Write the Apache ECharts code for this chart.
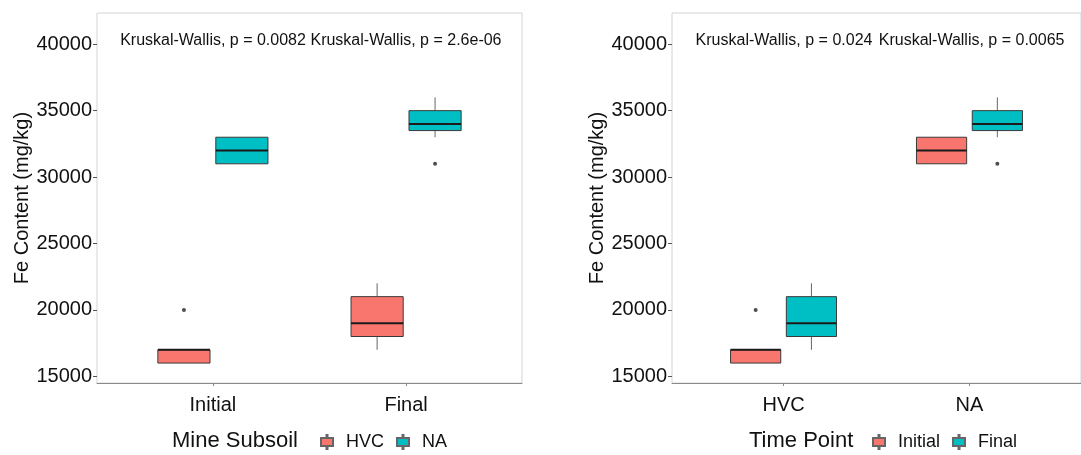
<!DOCTYPE html>
<html>
<head>
<meta charset="utf-8">
<script src="https://cdn.jsdelivr.net/npm/echarts@6/dist/echarts.min.js"></script>
<style>html,body{margin:0;padding:0;background:#fff;}#chart{width:1081px;height:455px;}</style>
</head>
<body>
<div id="chart"></div>
<script>
// ---------- data ----------
const timePoints = ['Initial', 'Final'];
const subsoils = ['HVC', 'NA'];
// box stats per time point: [lower whisker, Q1, median, Q3, upper whisker]
const hvcStats = [[16000, 16000, 17000, 17000, 17000], [17000, 18000, 19000, 21000, 22000]];
const naStats  = [[31000, 31000, 32000, 33000, 33000], [33000, 33500, 34000, 35000, 36000]];
// outliers: [timePointIndex, value]
const hvcOutliers = [[0, 20000]];
const naOutliers  = [[1, 31000]];
const yTicks = [15000, 20000, 25000, 30000, 35000, 40000];
const pLabelsLeft  = ['Kruskal-Wallis, p = 0.0082', 'Kruskal-Wallis, p = 2.6e-06'];
const pLabelsRight = ['Kruskal-Wallis, p = 0.024', 'Kruskal-Wallis, p = 0.0065'];
const legendTitleLeft = 'Mine Subsoil';
const legendTitleRight = 'Time Point';
const yTitle = 'Fe Content (mg/kg)';

// ---------- style ----------
const COL_A = '#F8766D', COL_B = '#00BFC4';
const FONT = 'Liberation Sans, Arial, sans-serif';
const DODGE = 0.15, BOX_W = 0.27;
const Y_MIN = 14500, Y_MAX = 42350;
const P_X_L = [0.52, 1.505], P_X_R = [0.527, 1.512], P_Y = 40300;

function boxRender(params, api) {
  const x = api.value(0);
  const lo = api.coord([x, api.value(1)]);
  const q1 = api.coord([x, api.value(2)]);
  const md = api.coord([x, api.value(3)]);
  const q3 = api.coord([x, api.value(4)]);
  const hi = api.coord([x, api.value(5)]);
  const hw = api.size([BOX_W, 0])[0] / 2;
  const color = api.visual('color');
  const ch = [];
  if (lo[1] - q1[1] > 0.5) ch.push({type: 'line', shape: {x1: lo[0], y1: lo[1], x2: q1[0], y2: q1[1]}, style: {stroke: '#666', lineWidth: 1}});
  if (q3[1] - hi[1] > 0.5) ch.push({type: 'line', shape: {x1: q3[0], y1: q3[1], x2: hi[0], y2: hi[1]}, style: {stroke: '#666', lineWidth: 1}});
  ch.push({type: 'rect', shape: {x: q1[0] - hw, y: q3[1], width: 2 * hw, height: q1[1] - q3[1]}, style: {fill: color, stroke: '#3a3a3a', lineWidth: 1}});
  ch.push({type: 'line', shape: {x1: md[0] - hw, y1: md[1], x2: md[0] + hw, y2: md[1]}, style: {stroke: '#1a1a1a', lineWidth: 2}});
  return {type: 'group', children: ch};
}
function makeTextRender(labels) {
  return function (params, api) {
    const p = api.coord([api.value(0), api.value(1)]);
    return {type: 'text', x: p[0], y: p[1], style: {text: labels[params.dataIndex], fontSize: 16, fontFamily: FONT, fill: '#111', align: 'left', verticalAlign: 'middle'}};
  };
}

function boxData(stats, offset) {
  return stats.map((s, i) => [i + 1 + offset].concat(s));
}

const KEY_ICON = 'path://M5.5,0 H6.5 V3 H12 V11 H6.5 V14 H5.5 V11 H0 V3 H5.5 Z';

function xAxis(gi, cats) {
  return {
    gridIndex: gi, type: 'value', min: 0.4, max: 2.6,
    axisLine: {show: true, lineStyle: {color: '#8a8a8a', width: 1}},
    axisTick: {show: true, customValues: [1, 2], length: 3, lineStyle: {color: '#8a8a8a'}},
    axisLabel: {customValues: [1, 2], formatter: v => cats[Math.round(v) - 1], fontSize: 20, fontFamily: FONT, color: '#111', margin: 12},
    splitLine: {show: false}
  };
}
function yAxis(gi) {
  return {
    gridIndex: gi, type: 'value', min: Y_MIN, max: Y_MAX,
    name: yTitle, nameLocation: 'middle', nameGap: 61,
    nameTextStyle: {fontSize: 20, fontFamily: FONT, color: '#111'},
    axisLine: {show: false},
    axisTick: {show: true, customValues: yTicks, length: 4, lineStyle: {color: '#555'}},
    axisLabel: {customValues: yTicks, formatter: v => String(v), fontSize: 20, fontFamily: FONT, color: '#111', margin: 5},
    splitLine: {show: false}
  };
}

const legendItemStyle = {borderColor: '#666', borderWidth: 0.5};
const series = [];
// Left panel: x = time point, fill = subsoil
series.push({name: 'HVC', type: 'custom', xAxisIndex: 0, yAxisIndex: 0, renderItem: boxRender,
  itemStyle: Object.assign({color: COL_A}, legendItemStyle), encode: {x: 0, y: [1, 2, 3, 4, 5]},
  data: boxData(hvcStats, -DODGE)});
series.push({name: 'NA', type: 'custom', xAxisIndex: 0, yAxisIndex: 0, renderItem: boxRender,
  itemStyle: Object.assign({color: COL_B}, legendItemStyle), encode: {x: 0, y: [1, 2, 3, 4, 5]},
  data: boxData(naStats, DODGE)});
series.push({name: 'outL', type: 'scatter', xAxisIndex: 0, yAxisIndex: 0, symbolSize: 4, itemStyle: {color: '#222'}, silent: true,
  data: hvcOutliers.map(o => [o[0] + 1 - DODGE, o[1]]).concat(naOutliers.map(o => [o[0] + 1 + DODGE, o[1]]))});
series.push({name: 'pL', type: 'custom', xAxisIndex: 0, yAxisIndex: 0, renderItem: makeTextRender(pLabelsLeft), silent: true,
  encode: {x: 0, y: 1}, data: pLabelsLeft.map((t, i) => [P_X_L[i], P_Y])});

// Right panel: x = subsoil, fill = time point
const initialStats = [hvcStats[0], naStats[0]];
const finalStats = [hvcStats[1], naStats[1]];
series.push({name: 'Initial', type: 'custom', xAxisIndex: 1, yAxisIndex: 1, renderItem: boxRender,
  itemStyle: Object.assign({color: COL_A}, legendItemStyle), encode: {x: 0, y: [1, 2, 3, 4, 5]},
  data: boxData(initialStats, -DODGE)});
series.push({name: 'Final', type: 'custom', xAxisIndex: 1, yAxisIndex: 1, renderItem: boxRender,
  itemStyle: Object.assign({color: COL_B}, legendItemStyle), encode: {x: 0, y: [1, 2, 3, 4, 5]},
  data: boxData(finalStats, DODGE)});
// outliers regrouped: x = subsoil (HVC=1, NA=2), dodge by time point
series.push({name: 'outR', type: 'scatter', xAxisIndex: 1, yAxisIndex: 1, symbolSize: 4, itemStyle: {color: '#222'}, silent: true,
  data: hvcOutliers.map(o => [1 + (o[0] === 0 ? -DODGE : DODGE), o[1]])
        .concat(naOutliers.map(o => [2 + (o[0] === 0 ? -DODGE : DODGE), o[1]]))});
series.push({name: 'pR', type: 'custom', xAxisIndex: 1, yAxisIndex: 1, renderItem: makeTextRender(pLabelsRight), silent: true,
  encode: {x: 0, y: 1}, data: pLabelsRight.map((t, i) => [P_X_R[i], P_Y])});

const legendBase = {
  orient: 'horizontal', top: 433, padding: 0, itemWidth: 12, itemHeight: 14, itemGap: 12,
  icon: KEY_ICON, selectedMode: false,
  textStyle: {fontSize: 18, fontFamily: FONT, color: '#111', padding: [0, 0, 0, 8]}
};

const option = {
  backgroundColor: '#fff',
  animation: false,
  grid: [
    {left: 97, top: 13, width: 425, height: 370, show: true, borderColor: '#d4d4d4', borderWidth: 1, backgroundColor: 'transparent'},
    {left: 672, top: 13, width: 421.5, height: 370, show: true, borderColor: '#d4d4d4', borderWidth: 1, backgroundColor: 'transparent'}
  ],
  xAxis: [xAxis(0, timePoints), xAxis(1, subsoils)],
  yAxis: [yAxis(0), yAxis(1)],
  legend: [
    Object.assign({}, legendBase, {left: 320, data: subsoils}),
    Object.assign({}, legendBase, {left: 872, data: timePoints})
  ],
  graphic: [
    {type: 'text', left: 172, top: 430, style: {text: legendTitleLeft, fontSize: 22, fontFamily: FONT, fill: '#111'}},
    {type: 'text', left: 749, top: 430, style: {text: legendTitleRight, fontSize: 22, fontFamily: FONT, fill: '#111'}}
  ],
  series: series
};

const chart = echarts.init(document.getElementById('chart'), null, {renderer: 'canvas'});
chart.setOption(option);
</script>
</body>
</html>
